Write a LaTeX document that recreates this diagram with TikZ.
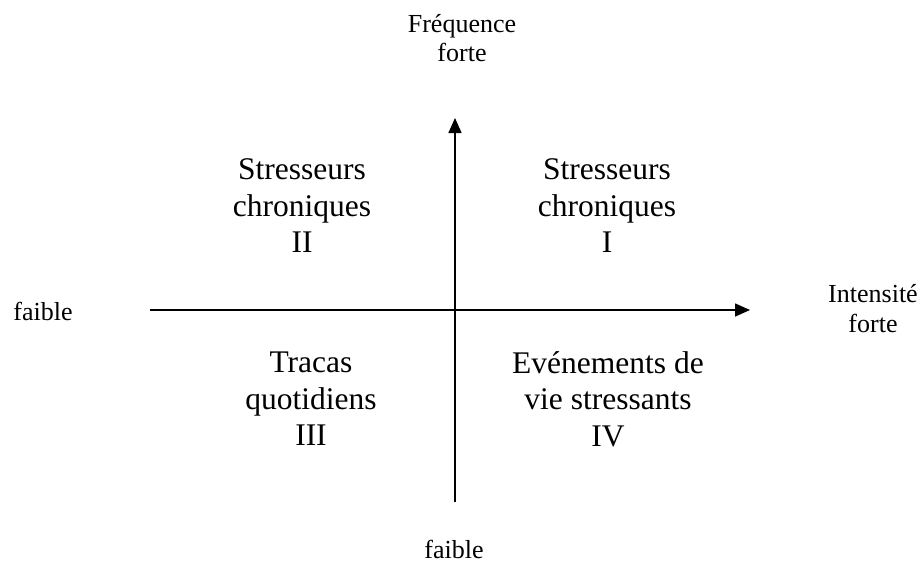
\documentclass[tikz,border=0pt]{standalone}
\usepackage{fontspec}
\setmainfont{Liberation Serif}
\usetikzlibrary{arrows.meta}
\tikzset{
  axis/.style={line width=1.6pt, -{Triangle[length=15pt,width=13pt]}},
  quad/.style={align=center, inner sep=0pt, font=\fontsize{31.5}{36.5}\selectfont},
  lbl/.style={align=center, inner sep=0pt, font=\fontsize{26}{29.5}\selectfont},
}
\begin{document}
\begin{tikzpicture}[x=1pt,y=-1pt]
\useasboundingbox (0,0) rectangle (923,563);
\coordinate (vb) at (455,502);
\coordinate (vt) at (455,118);
\coordinate (hl) at (150,310);
\coordinate (hr) at (750,310);
\draw[axis] (vb) -- (vt);
\draw[axis] (hl) -- (hr);
\node[lbl] (freq) at (462,38) {Fréquence\\forte};
\node[lbl, anchor=base] (fleft) at (43,320) {faible};
\node[lbl] (intens) at (873,308.5) {Intensité\\forte};
\node[lbl, anchor=base] (fbot) at (454,558) {faible};
\node[quad] (q2) at (302,206) {Stresseurs\\chroniques\\II};
\node[quad] (q1) at (607,206) {Stresseurs\\chroniques\\I};
\node[quad] (q3) at (311,399) {Tracas\\quotidiens\\III};
\node[quad] (q4) at (608,399) {Evénements de\\vie stressants\\IV};
\end{tikzpicture}
\end{document}
